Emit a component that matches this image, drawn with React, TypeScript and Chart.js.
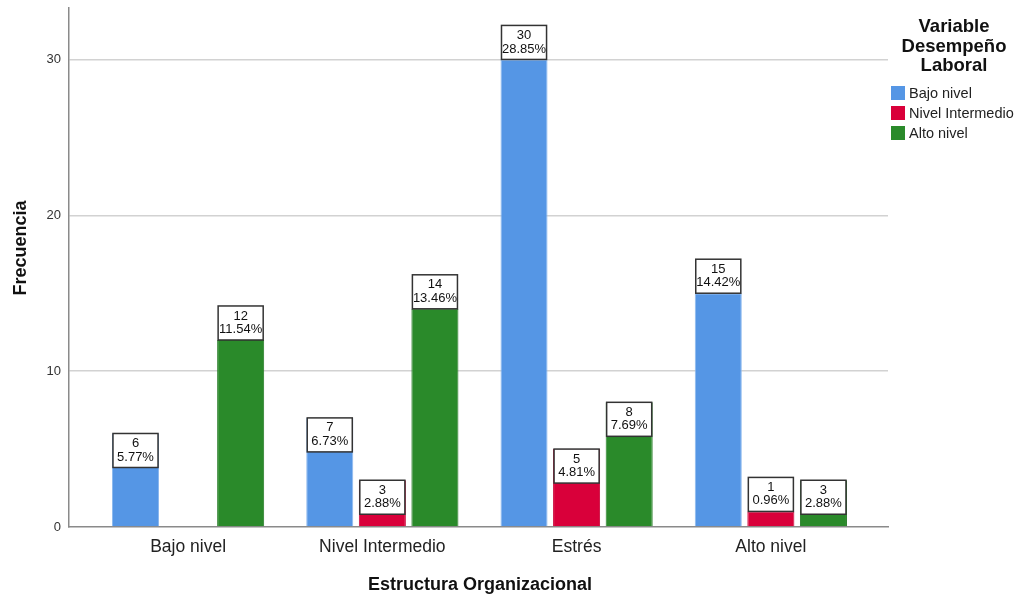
import { useEffect, useRef } from "react";
import { Chart, registerables } from "chart.js";

Chart.register(...registerables);

// Categories of "Estructura Organizacional"
const categories = ["Bajo nivel", "Nivel Intermedio", "Estrés", "Alto nivel"];
// Series of "Variable Desempeño Laboral"
const seriesNames = ["Bajo nivel", "Nivel Intermedio", "Alto nivel"];
const bajoNivel = [6, 7, 30, 15];
const nivelIntermedio = [null, 3, 5, 1];
const altoNivel = [12, 14, 8, 3];
const totalCases = 104;
const yTicks = [0, 10, 20, 30];

const seriesValues = [bajoNivel, nivelIntermedio, altoNivel];
const seriesColors = ["#5596E5", "#D9003A", "#2A8A2A"];
const seriesBorders = ["#8DB9EE", "#C80036", "#247A24"];

const FONT = "'Liberation Sans', Arial, sans-serif";

const pct = (v: number) => ((v / totalCases) * 100).toFixed(2) + "%";

// Value boxes: count on the first line, share of total on the second
const valueBoxes = {
  id: "valueBoxes",
  afterDatasetsDraw(chart: any) {
    const ctx = chart.ctx;
    ctx.save();
    chart.data.datasets.forEach((ds: any, di: number) => {
      const meta = chart.getDatasetMeta(di);
      meta.data.forEach((el: any, i: number) => {
        const v = ds.data[i]?.y;
        if (v == null) return;
        const w = el.width - 2;
        const h = 34;
        const inside = v >= 3 && v < 10;
        const top = inside ? el.y : el.y - h;
        const left = el.x - w / 2;
        ctx.fillStyle = "#ffffff";
        ctx.fillRect(left, top, w, h);
        ctx.strokeStyle = "#333333";
        ctx.lineWidth = 1.5;
        ctx.strokeRect(left, top, w, h);
        ctx.fillStyle = "#111111";
        ctx.font = `13px ${FONT}`;
        ctx.textAlign = "center";
        ctx.textBaseline = "middle";
        ctx.fillText(String(v), el.x, top + 10);
        ctx.fillText(pct(v), el.x, top + 23.5);
      });
    });
    ctx.restore();
  },
};

// Axis titles and the legend block on the right
const decorations = {
  id: "decorations",
  afterDraw(chart: any) {
    const ctx = chart.ctx;
    ctx.save();
    ctx.fillStyle = "#111111";
    ctx.textAlign = "center";
    ctx.textBaseline = "middle";

    ctx.font = `bold 18px ${FONT}`;
    ctx.save();
    ctx.translate(21, 248);
    ctx.rotate(-Math.PI / 2);
    ctx.fillText("Frecuencia", 0, 0);
    ctx.restore();

    ctx.fillText("Estructura Organizacional", 480, 585);

    ctx.font = `bold 18.5px ${FONT}`;
    ["Variable", "Desempeño", "Laboral"].forEach((t, i) => {
      ctx.fillText(t, 954, 27 + i * 19.5);
    });

    ctx.font = `14.5px ${FONT}`;
    ctx.textAlign = "left";
    seriesNames.forEach((name, i) => {
      const y = 86 + i * 20;
      ctx.fillStyle = seriesColors[i];
      ctx.fillRect(891, y, 14, 14);
      ctx.fillStyle = "#222222";
      ctx.fillText(name, 909, y + 7.5);
    });
    ctx.restore();
  },
};

export default function App() {
  const canvasRef = useRef<HTMLCanvasElement | null>(null);

  useEffect(() => {
    document.body.style.margin = "0";
    const canvas = canvasRef.current;
    if (!canvas) return;

    const chart = new Chart(canvas, {
      type: "bar",
      data: {
        datasets: seriesValues.map((vals, di) => ({
          label: seriesNames[di],
          data: vals.map((v, i) => ({ x: i, y: v })),
          backgroundColor: seriesColors[di],
          borderColor: seriesBorders[di],
          borderWidth: 1,
          categoryPercentage: 0.812,
          barPercentage: 0.895,
        })),
      },
      options: {
        animation: false,
        responsive: false,
        devicePixelRatio: 1,
        layout: { padding: { left: 0, right: 142, top: 8, bottom: 0 } },
        plugins: {
          legend: { display: false },
          tooltip: { enabled: false },
        },
        scales: {
          x: {
            type: "linear",
            offset: false,
            min: -0.613,
            max: 3.603,
            afterBuildTicks: (scale: any) => {
              scale.ticks = categories.map((_, i) => ({ value: i }));
            },
            afterFit: (scale: any) => {
              scale.height = 72;
              scale.paddingLeft = 0;
              scale.paddingRight = 0;
            },
            grid: { display: false, drawTicks: false },
            border: { display: true, color: "#8a8a8a", width: 1.5 },
            ticks: {
              padding: 10,
              color: "#222222",
              font: { family: FONT, size: 17.5 },
              callback: (v: any) => categories[v] ?? "",
              maxRotation: 0,
              autoSkip: false,
            },
          },
          y: {
            min: 0,
            max: 33.3,
            afterBuildTicks: (scale: any) => {
              scale.ticks = yTicks.map((v) => ({ value: v }));
            },
            afterFit: (scale: any) => {
              scale.width = 69;
              scale.paddingTop = 0;
              scale.paddingBottom = 0;
            },
            grid: {
              drawTicks: false,
              lineWidth: 1.5,
              color: (c: any) => (c.tick && c.tick.value === 0 ? "rgba(0,0,0,0)" : "#d2d2d2"),
            },
            border: { display: true, color: "#8a8a8a", width: 1.5 },
            ticks: {
              padding: 8,
              color: "#333333",
              font: { family: FONT, size: 13 },
            },
          },
        },
      },
      plugins: [valueBoxes, decorations],
    } as any);

    return () => chart.destroy();
  }, []);

  return (
    <div style={{ width: 1030, height: 599, position: "relative" }}>
      <canvas ref={canvasRef} width={1030} height={599} />
    </div>
  );
}
